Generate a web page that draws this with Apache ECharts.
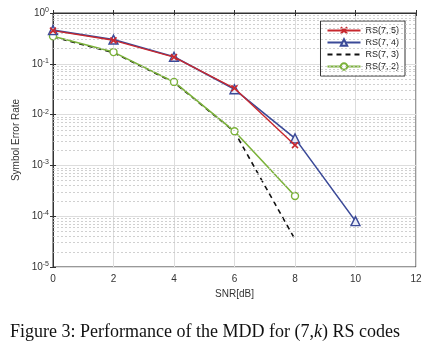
<!DOCTYPE html>
<html>
<head>
<meta charset="utf-8">
<script src="https://cdn.jsdelivr.net/npm/echarts@6/dist/echarts.min.js"></script>
<style>
  html, body { margin: 0; padding: 0; background: #fff; }
  #chart { width: 431px; height: 347px; }
</style>
</head>
<body>
<div id="chart"></div>
<script>
// SNR points (dB)
const snr = [0, 2, 4, 6, 8, 10];
// symbol error rate per code
const rs75 = [0.45, 0.29, 0.135, 0.033, 0.0025];
const rs74 = [0.46, 0.30, 0.138, 0.0315, 0.0034, 8e-5];
const rs73 = [0.34, 0.165, 0.043, 0.0046, 3.5e-5];
const rs72 = [0.35, 0.17, 0.044, 0.0047, 2.5e-4];

const seriesNames = ['RS(7, 5)', 'RS(7, 4)', 'RS(7, 3)', 'RS(7, 2)'];
const fontSans = "'Liberation Sans', Arial, sans-serif";

// minor log gridlines 2..9 x 10^n, placed on a hidden linear axis of exponents
const minorLines = [];
for (let e = -5; e < 0; e++) {
  for (let m = 2; m <= 9; m++) minorLines.push({ yAxis: e + Math.log10(m) });
}

const pairs = (vals) => vals.map((v, i) => [snr[i], v]);

const crossPath = 'path://M0,0L10,10M10,0L0,10';

const chart = echarts.init(document.getElementById('chart'));

const supLabel = (v) => {
  const e = Math.round(Math.log10(v));
  return '10{s|' + e + '}';
};

chart.setOption({
  backgroundColor: '#fff',
  animation: false,
  textStyle: { fontFamily: fontSans },
  title: {
    text: 'Figure 3: Performance of the MDD for (7,{i|k}) RS codes',
    left: 5,
    top: 318,
    textStyle: {
      fontFamily: "'Liberation Serif', 'Times New Roman', serif",
      fontSize: 18,
      fontWeight: 'normal',
      color: '#111',
      rich: {
        i: { fontFamily: "'Liberation Serif', serif", fontStyle: 'italic', fontSize: 18, color: '#111' }
      }
    }
  },
  grid: {
    left: 53, right: 15, top: 13, bottom: 80,
    show: true, borderColor: '#333', borderWidth: 1, backgroundColor: '#fff'
  },
  legend: {
    orient: 'vertical',
    right: 26,
    top: 21,
    data: [
      { name: seriesNames[0] },
      { name: seriesNames[1] },
      { name: seriesNames[2], itemStyle: { opacity: 0 } },
      { name: seriesNames[3] }
    ],
    itemWidth: 33,
    itemHeight: 8,
    itemGap: 3,
    padding: [5, 6, 5, 6],
    backgroundColor: '#fff',
    borderColor: '#333',
    borderWidth: 1,
    borderRadius: 0,
    textStyle: { fontSize: 9, color: '#222', fontFamily: fontSans }
  },
  xAxis: [{
    type: 'value',
    min: 0, max: 12, interval: 2,
    name: 'SNR[dB]',
    nameLocation: 'middle',
    nameGap: 20,
    nameTextStyle: { fontSize: 10, color: '#333' },
    axisLine: { lineStyle: { color: '#333' } },
    axisTick: { inside: true, length: 3, lineStyle: { color: '#333' } },
    axisLabel: { fontSize: 10, color: '#333', margin: 7 },
    splitLine: { show: true, lineStyle: { color: '#ddd', width: 1 } }
  }, {
    type: 'value',
    position: 'top',
    min: 0, max: 12, interval: 2,
    axisLine: { lineStyle: { color: '#333' } },
    axisTick: { inside: true, length: 3, lineStyle: { color: '#333' } },
    axisLabel: { show: false },
    splitLine: { show: false }
  }],
  yAxis: [{
    type: 'log',
    logBase: 10,
    min: 1e-5, max: 1,
    name: 'Symbol Error Rate',
    nameLocation: 'middle',
    nameGap: 25,
    nameTextStyle: { fontSize: 10, color: '#333' },
    axisLine: { lineStyle: { color: '#333' } },
    axisTick: { inside: true, length: 3, lineStyle: { color: '#333' } },
    axisLabel: {
      fontSize: 10, color: '#333', margin: 4,
      formatter: supLabel,
      rich: { s: { fontSize: 7, color: '#333', verticalAlign: 'top', padding: [0, 0, 6, 0] } }
    },
    splitLine: { show: true, lineStyle: { color: '#ddd', width: 1 } }
  }, {
    type: 'log',
    logBase: 10,
    min: 1e-5, max: 1,
    position: 'right',
    axisLine: { lineStyle: { color: '#333' } },
    axisTick: { inside: true, length: 3, lineStyle: { color: '#333' } },
    axisLabel: { show: false },
    splitLine: { show: false }
  }, {
    // hidden linear axis in decades, only for the minor grid
    type: 'value',
    min: -5, max: 0,
    show: false
  }],
  series: [
    {
      name: 'minor-grid',
      type: 'line',
      yAxisIndex: 2,
      data: [],
      silent: true,
      z: 1,
      markLine: {
        silent: true,
        symbol: 'none',
        label: { show: false },
        lineStyle: { color: '#c4c4c4', type: [2, 2], width: 0.8 },
        emphasis: { disabled: true },
        data: minorLines
      }
    },
    {
      name: seriesNames[2],
      type: 'line',
      data: pairs(rs73),
      symbol: 'circle',
      showSymbol: false,
      z: 3,
      lineStyle: { color: '#111', width: 1.6, type: [5, 4] },
      itemStyle: { color: '#111' }
    },
    {
      name: seriesNames[3],
      type: 'line',
      data: pairs(rs72),
      symbol: 'circle',
      symbolSize: 7,
      z: 4,
      lineStyle: { color: '#7bb23a', width: 1.6 },
      itemStyle: { color: '#fff', borderColor: '#7bb23a', borderWidth: 1.4 }
    },
    {
      name: seriesNames[1],
      type: 'line',
      data: pairs(rs74),
      symbol: 'triangle',
      symbolSize: 9,
      z: 5,
      lineStyle: { color: '#3b4a98', width: 1.6 },
      itemStyle: { color: '#e8ebf6', borderColor: '#3b4a98', borderWidth: 1.4 }
    },
    {
      name: seriesNames[0],
      type: 'line',
      data: pairs(rs75),
      symbol: crossPath,
      symbolSize: 6,
      z: 6,
      lineStyle: { color: '#c8282e', width: 1.4 },
      itemStyle: { color: '#c8282e', borderColor: '#c8282e', borderWidth: 1.6 }
    }
  ]
});
</script>
</body>
</html>
